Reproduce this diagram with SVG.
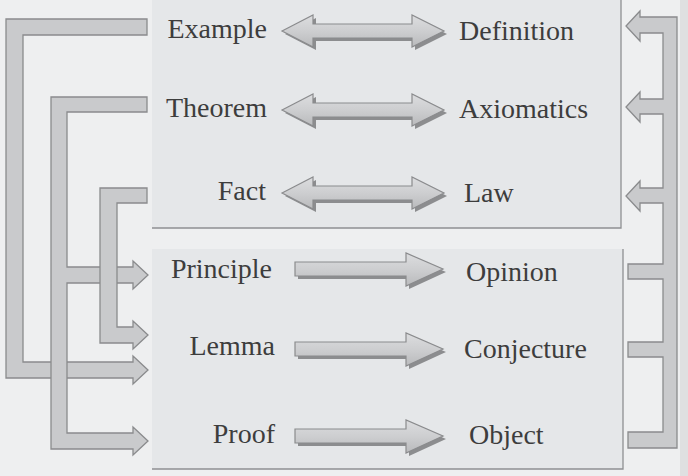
<svg xmlns="http://www.w3.org/2000/svg" width="688" height="476" viewBox="0 0 688 476">
  <defs>
    <linearGradient id="arrowGrad" x1="0" y1="0" x2="0" y2="1">
      <stop offset="0" stop-color="#dcdddf"/>
      <stop offset="0.5" stop-color="#cdced0"/>
      <stop offset="1" stop-color="#b9babc"/>
    </linearGradient>
    <style>
      .bg { fill: #eeeff0; }
      .panel { fill: #e5e7e9; }
      .edge { fill: none; stroke: #8f9092; stroke-width: 1.3; }
      .bar { fill: #c9cacc; stroke: #8a8b8d; stroke-width: 1.3; stroke-linejoin: miter; }
      .arrow { fill: url(#arrowGrad); stroke: #8a8b8d; stroke-width: 1.2; stroke-linejoin: miter; }
      .shadow { fill: #8c8d8f; }
      .lbl { font-family: "Liberation Serif", "Times New Roman", serif; font-size: 28px; fill: #3d3d3d; }
      .l { text-anchor: end; }
      .r { text-anchor: start; }
    </style>
  </defs>

  <!-- background and panels -->
  <rect class="bg" x="0" y="0" width="688" height="476"/>
  <rect x="680" y="0" width="8" height="476" fill="#dfe0e1"/>
  <g id="panel-top">
    <rect class="panel" x="152" y="-2" width="469" height="230"/>
    <polyline class="edge" points="621,-2 621,228 152,228"/>
  </g>
  <g id="panel-bottom">
    <rect class="panel" x="152" y="249" width="471" height="220"/>
    <polyline class="edge" points="623,249 623,469 152,469"/>
  </g>

  <!-- connectors -->
  <g id="connectors">
    <!-- left brackets -->
    <polygon class="bar" points="147,19 6,19 6,378 133,378 133,384 148,370 133,356 133,362 23,362 23,35 147,35"/>
    <polygon class="bar" points="147,97 51,97 51,449 133,449 133,455 148,441 133,427 133,433 67,433 67,283 133,283 133,289 148,275 133,261 133,267 67,267 67,112 147,112"/>
    <polygon class="bar" points="147,188 100,188 100,343 133,343 133,349 148,335 133,321 133,327 117,327 117,203 147,203"/>
    <!-- right bracket -->
    <polygon class="bar" points="677,17 677,448 628,448 628,432 663,432 663,357 628,357 628,342 663,342 663,279 628,279 628,264 663,264 663,203 640,203 640,211 626,196 640,181 640,188 663,188 663,114 640,114 640,122 626,107 640,92 640,99 663,99 663,33 640,33 640,41 626,26 640,11 640,17"/>

    <!-- double arrows -->
    <g transform="translate(0,31)">
      <polygon class="shadow" transform="translate(3,3)" points="282,0 313,-16 313,-7 412,-7 412,-16 444,0 412,16 412,7 313,7 313,16"/>
      <polygon class="arrow" points="282,0 313,-16 313,-7 412,-7 412,-16 444,0 412,16 412,7 313,7 313,16"/>
    </g>
    <g transform="translate(0,110)">
      <polygon class="shadow" transform="translate(3,3)" points="282,0 313,-16 313,-7 412,-7 412,-16 444,0 412,16 412,7 313,7 313,16"/>
      <polygon class="arrow" points="282,0 313,-16 313,-7 412,-7 412,-16 444,0 412,16 412,7 313,7 313,16"/>
    </g>
    <g transform="translate(0,193)">
      <polygon class="shadow" transform="translate(3,3)" points="282,0 313,-16 313,-7 412,-7 412,-16 444,0 412,16 412,7 313,7 313,16"/>
      <polygon class="arrow" points="282,0 313,-16 313,-7 412,-7 412,-16 444,0 412,16 412,7 313,7 313,16"/>
    </g>

    <!-- single arrows -->
    <g transform="translate(0,269)">
      <polygon class="shadow" transform="translate(3,3)" points="295,-7 406,-7 406,-16 443,0 406,17 406,7 295,7"/>
      <polygon class="arrow" points="295,-7 406,-7 406,-16 443,0 406,17 406,7 295,7"/>
    </g>
    <g transform="translate(0,349)">
      <polygon class="shadow" transform="translate(3,3)" points="295,-7 406,-7 406,-16 443,0 406,17 406,7 295,7"/>
      <polygon class="arrow" points="295,-7 406,-7 406,-16 443,0 406,17 406,7 295,7"/>
    </g>
    <g transform="translate(0,436)">
      <polygon class="shadow" transform="translate(3,3)" points="295,-7 406,-7 406,-16 443,0 406,17 406,7 295,7"/>
      <polygon class="arrow" points="295,-7 406,-7 406,-16 443,0 406,17 406,7 295,7"/>
    </g>
  </g>

  <!-- nodes -->
  <g id="node-example"><text class="lbl l" x="267" y="38">Example</text></g>
  <g id="node-definition"><text class="lbl r" x="459" y="40">Definition</text></g>
  <g id="node-theorem"><text class="lbl l" x="267" y="117">Theorem</text></g>
  <g id="node-axiomatics"><text class="lbl r" x="459" y="118">Axiomatics</text></g>
  <g id="node-fact"><text class="lbl l" x="266" y="200">Fact</text></g>
  <g id="node-law"><text class="lbl r" x="464" y="202">Law</text></g>
  <g id="node-principle"><text class="lbl l" x="272" y="278">Principle</text></g>
  <g id="node-opinion"><text class="lbl r" x="466" y="281">Opinion</text></g>
  <g id="node-lemma"><text class="lbl l" x="275" y="355">Lemma</text></g>
  <g id="node-conjecture"><text class="lbl r" x="464" y="358">Conjecture</text></g>
  <g id="node-proof"><text class="lbl l" x="275" y="443">Proof</text></g>
  <g id="node-object"><text class="lbl r" x="469" y="444">Object</text></g>
</svg>
